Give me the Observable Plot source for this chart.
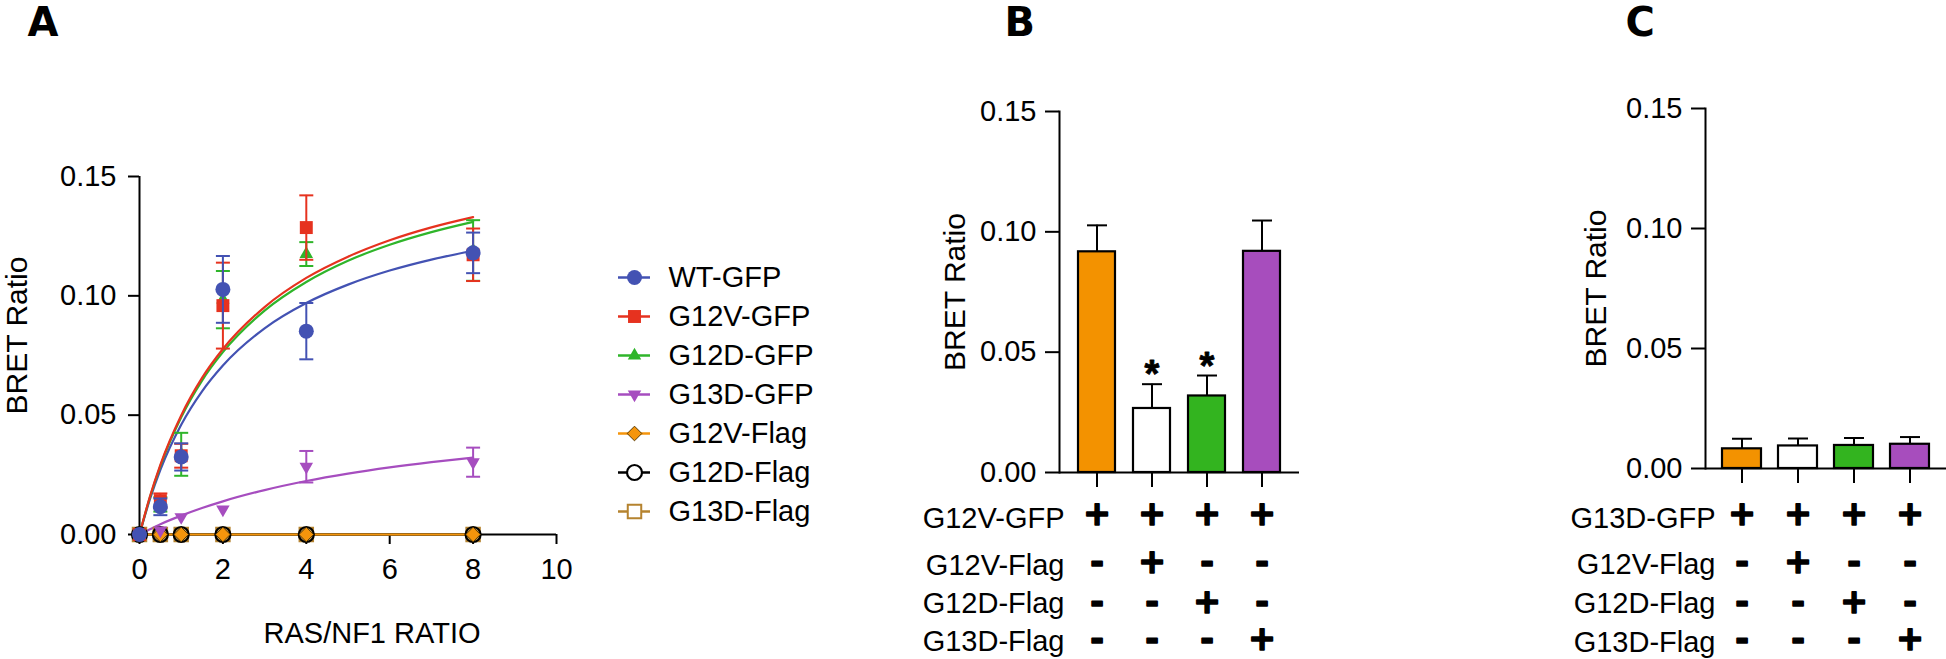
<!DOCTYPE html>
<html><head><meta charset="utf-8">
<script src="https://cdn.jsdelivr.net/npm/d3@7"></script>
<script src="https://cdn.jsdelivr.net/npm/@observablehq/plot@0.6"></script>
<style>
html,body{margin:0;padding:0;background:#fff;}
#root{position:relative;width:1946px;height:659px;overflow:hidden;background:#fff;}
.panel{position:absolute;}
.panel svg{max-width:none !important;display:block;}
</style></head><body><div id="root"></div>
<script>
// ---------------- DATA ----------------
// Panel A
const seriesNames  = ["WT-GFP","G12V-GFP","G12D-GFP","G13D-GFP","G12V-Flag","G12D-Flag","G13D-Flag"];
const seriesColors = ["#4352b3","#e6321f","#2fb52a","#a64dbf","#f5950c","#000000","#b5832f"];
const ratioX = [0, 0.5, 1, 2, 4, 8];
const wtGFP       = [0, 0.0116, 0.0325, 0.1027, 0.0852, 0.1180];
const wtGFPErr    = [0, 0.0035, 0.0057, 0.0140, 0.0118, 0.0085];
const g12vGFP     = [0, 0.0142, 0.0330, 0.0959, 0.1286, 0.1172];
const g12vGFPErr  = [0, 0.0030, 0.0050, 0.0180, 0.0135, 0.0110];
const g12dGFP     = [0, 0.0126, 0.0336, 0.0984, 0.1175, 0.1190];
const g12dGFPErr  = [0, 0.0030, 0.0090, 0.0120, 0.0050, 0.0127];
const g13dGFP     = [0, 0.0017, 0.0073, 0.0105, 0.0284, 0.0303];
const g13dGFPErr  = [0, 0, 0, 0, 0.0066, 0.0061];
const g12vFlag    = [0, 0, 0, 0, 0, 0];
const g12dFlag    = [0, 0, 0, 0, 0, 0];
const g13dFlag    = [0, 0, 0, 0, 0, 0];
const flagErr     = [0, 0, 0, 0, 0, 0];
// fitted curves
const curveX    = [0, 0.25, 0.5, 1, 1.5, 2, 3, 4, 5, 6, 7, 8];
const wtCurve   = [0, 0.0148, 0.0271, 0.0460, 0.0600, 0.0708, 0.0864, 0.0970, 0.1047, 0.1106, 0.1152, 0.1189];
const g12vCurve = [0, 0.0159, 0.0292, 0.0499, 0.0656, 0.0777, 0.0953, 0.1075, 0.1164, 0.1233, 0.1287, 0.1330];
const g12dCurve = [0, 0.0156, 0.0287, 0.0491, 0.0645, 0.0764, 0.0938, 0.1058, 0.1147, 0.1214, 0.1267, 0.1310];
const g13dCurve = [0, 0.0022, 0.0043, 0.0079, 0.0111, 0.0139, 0.0186, 0.0224, 0.0255, 0.0281, 0.0303, 0.0322];
const flagCurve = [0, 0, 0, 0, 0, 0, 0, 0, 0, 0, 0, 0];
const xTicksA = [0, 2, 4, 6, 8, 10];
const yTicks  = [0, 0.05, 0.10, 0.15];

// Panel B
const catsB   = ["G12V-GFP", "G12V-GFP + G12V-Flag", "G12V-GFP + G12D-Flag", "G12V-GFP + G13D-Flag"];
const meansB  = [0.0917, 0.0266, 0.0318, 0.0919];
const errsB   = [0.0110, 0.0101, 0.0085, 0.0128];
const fillsB  = ["#f39200", "#ffffff", "#33b41f", "#a74dbd"];
const sigB    = ["", "*", "*", ""];
const rowsB   = ["G12V-GFP", "G12V-Flag", "G12D-Flag", "G13D-Flag"];
const signsB  = [["+","+","+","+"], ["-","+","-","-"], ["-","-","+","-"], ["-","-","-","+"]];

// Panel C
const catsC   = ["G13D-GFP", "G13D-GFP + G12V-Flag", "G13D-GFP + G12D-Flag", "G13D-GFP + G13D-Flag"];
const meansC  = [0.0082, 0.0094, 0.0096, 0.0101];
const errsC   = [0.0042, 0.0031, 0.0031, 0.0030];
const fillsC  = ["#f39200", "#ffffff", "#33b41f", "#a74dbd"];
const sigC    = ["", "", "", ""];
const rowsC   = ["G13D-GFP", "G12V-Flag", "G12D-Flag", "G13D-Flag"];
const signsC  = [["+","+","+","+"], ["-","+","-","-"], ["-","-","+","-"], ["-","-","-","+"]];

// ---------------- HELPERS ----------------
const FONT = '"Liberation Sans", Arial, Helvetica, sans-serif';
const BOLDFONT = '"DejaVu Sans", "Liberation Sans", sans-serif';
const root = document.getElementById("root");
function place(svg, left, top) {
  const d = document.createElement("div");
  d.className = "panel"; d.style.left = left + "px"; d.style.top = top + "px";
  d.appendChild(svg); root.appendChild(d);
}
const hline = {draw(ctx, size) { const r = Math.sqrt(size / Math.PI); ctx.moveTo(-r, 0); ctx.lineTo(r, 0); }};
const triUp = {draw(ctx, size) { const R = 1.08 * Math.sqrt(size / Math.PI);
  ctx.moveTo(0, -R); ctx.lineTo(0.866 * R, 0.5 * R); ctx.lineTo(-0.866 * R, 0.5 * R); ctx.closePath(); }};
const triDown = {draw(ctx, size) { const R = 1.08 * Math.sqrt(size / Math.PI);
  ctx.moveTo(0, R); ctx.lineTo(0.866 * R, -0.5 * R); ctx.lineTo(-0.866 * R, -0.5 * R); ctx.closePath(); }};

const seriesVals = [wtGFP, g12vGFP, g12dGFP, g13dGFP, g12vFlag, g12dFlag, g13dFlag];
const seriesErrs = [wtGFPErr, g12vGFPErr, g12dGFPErr, g13dGFPErr, flagErr, flagErr, flagErr];
const seriesCurves = [wtCurve, g12vCurve, g12dCurve, g13dCurve, flagCurve, flagCurve, flagCurve];
const markerStyle = [
  {symbol: "circle", r: 7.5, fill: seriesColors[0], stroke: "none"},
  {symbol: "square", r: 7.3, fill: seriesColors[1], stroke: "none"},
  {symbol: triUp, r: 7.2, fill: seriesColors[2], stroke: "none"},
  {symbol: triDown, r: 7.2, fill: seriesColors[3], stroke: "none"},
  {symbol: "diamond2", r: 6.6, fill: seriesColors[4], stroke: "#5a3a00", strokeWidth: 1},
  {symbol: "circle", r: 7.5, fill: "none", stroke: seriesColors[5], strokeWidth: 2.2},
  {symbol: "square", r: 7.6, fill: "#d3a75c", stroke: seriesColors[6], strokeWidth: 2}
];
const points = seriesNames.map((s, i) => ratioX.map((x, j) => ({series: s, x, y: seriesVals[i][j], err: seriesErrs[i][j]})));
const curves = seriesNames.map((s, i) => curveX.map((x, j) => ({series: s, x, y: seriesCurves[i][j]})));

// ---------------- PANEL A ----------------
const drawOrder = [6, 5, 4, 3, 2, 1, 0];
const lineOrder = [6, 5, 4, 3, 0, 2, 1];
const marksA = [
  Plot.axisX({ticks: xTicksA, tickSize: 10, tickPadding: 14, strokeWidth: 2, label: null, fontSize: 29}),
  Plot.axisY({ticks: yTicks, tickSize: 11, tickPadding: 12, tickFormat: d3.format(".2f"), strokeWidth: 2, label: null, fontSize: 29}),
  Plot.ruleX([0], {strokeWidth: 2}),
  Plot.ruleY([0], {strokeWidth: 2})
];
for (const i of lineOrder) {
  marksA.push(Plot.line(curves[i], {x: "x", y: "y", stroke: seriesColors[i], strokeWidth: 2.2, curve: "monotone-x"}));
}
for (const i of drawOrder) {
  const withErr = points[i].filter(d => d.err > 0);
  marksA.push(Plot.ruleX(withErr, {x: "x", y1: d => d.y - d.err, y2: d => d.y + d.err, stroke: seriesColors[i], strokeWidth: 2}));
  marksA.push(Plot.dot(withErr, {x: "x", y: d => d.y + d.err, symbol: hline, r: 7, stroke: seriesColors[i], strokeWidth: 2, fill: "none"}));
  marksA.push(Plot.dot(withErr, {x: "x", y: d => d.y - d.err, symbol: hline, r: 7, stroke: seriesColors[i], strokeWidth: 2, fill: "none"}));
  marksA.push(Plot.dot(points[i], {x: "x", y: "y", ...markerStyle[i]}));
}
marksA.push(Plot.text(["BRET Ratio"], {text: d => d, frameAnchor: "left", textAnchor: "middle", dx: -122, dy: -20, rotate: -90, fontSize: 30}));
marksA.push(Plot.text(["RAS/NF1 RATIO"], {text: d => d, frameAnchor: "bottom", textAnchor: "middle", dx: 24, dy: 108, lineAnchor: "bottom", fontSize: 29}));
marksA.push(Plot.text(["A"], {text: d => d, frameAnchor: "top-left", dx: -112, dy: -141, textAnchor: "start", lineAnchor: "bottom", fontSize: 40, fontWeight: "bold", fontFamily: BOLDFONT}));

place(Plot.plot({
  width: 600, height: 659, marginLeft: 139, marginRight: 44, marginTop: 176, marginBottom: 125,
  x: {domain: [0, 10], axis: null}, y: {domain: [0, 0.15], axis: null},
  style: {fontFamily: FONT, fontSize: "29px", background: "transparent", overflow: "visible"},
  marks: marksA
}), 0, 0);

// Legend for A
const legendData = seriesNames.map((s, i) => ({series: s, i}));
const legendMarks = [];
legendData.forEach(d => {
  legendMarks.push(Plot.ruleY([d], {y: "series", x1: 0, x2: 1, stroke: seriesColors[d.i], strokeWidth: 2.5}));
  const ms = {...markerStyle[d.i]};
  if (d.i === 6) ms.fill = "white";
  if (d.i === 5) ms.fill = "white";
  legendMarks.push(Plot.dot([d], {x: 0.5, y: "series", ...ms}));
});
legendMarks.push(Plot.text(legendData, {x: 1, y: "series", text: "series", dx: 18, textAnchor: "start", fontSize: 29}));
place(Plot.plot({
  width: 260, height: 300, marginLeft: 18, marginRight: 210, marginTop: 27, marginBottom: 39,
  x: {domain: [0, 1], axis: null},
  y: {type: "point", domain: seriesNames, padding: 0, axis: null},
  style: {fontFamily: FONT, fontSize: "29px", background: "transparent", overflow: "visible"},
  marks: legendMarks
}), 600, 250);

// ---------------- PANELS B & C ----------------
function barPanel(o) {
  const data = o.cats.map((c, i) => ({cat: c, mean: o.means[i], err: o.errs[i], fill: o.fills[i], sig: o.sig[i]}));
  const marks = [
    Plot.axisY({ticks: yTicks, tickSize: 14, tickPadding: 9, tickFormat: d3.format(".2f"), strokeWidth: 2, label: null, fontSize: 29}),
    Plot.axisX({tickSize: 15, tickFormat: () => "", strokeWidth: 2, label: null}),
    Plot.frame({anchor: "left", strokeWidth: 2}),
    Plot.ruleY([0], {strokeWidth: 2}),
    Plot.ruleX(data, {x: "cat", y1: "mean", y2: d => d.mean + d.err, strokeWidth: 2}),
    Plot.dot(data, {x: "cat", y: d => d.mean + d.err, symbol: hline, r: 10, stroke: "black", strokeWidth: 2, fill: "none"}),
    Plot.barY(data, {x: "cat", y: "mean", fill: "fill", stroke: "black", strokeWidth: 2.2}),
    Plot.text(data.filter(d => d.sig), {x: "cat", y: d => d.mean + d.err, text: "sig", dy: 3, lineAnchor: "bottom", fontSize: 38, fontWeight: "bold", fill: "black", stroke: "black", strokeWidth: 0.8}),
    Plot.text(["BRET Ratio"], {text: d => d, frameAnchor: "left", textAnchor: "middle", dx: o.yLabelDx, rotate: -90, fontSize: 30}),
    Plot.text([o.letter], {text: d => d, frameAnchor: "top-left", dx: o.letterDx, dy: 35 - o.marginTop, textAnchor: "start", lineAnchor: "bottom", fontSize: 40, fontWeight: "bold", fontFamily: BOLDFONT})
  ];
  o.rows.forEach((row, r) => {
    marks.push(Plot.text([row], {text: d => d, frameAnchor: "bottom-left", dx: o.labelDx, dy: o.labelDy[r], textAnchor: "end", lineAnchor: "bottom", fontSize: 29}));
    marks.push(Plot.text(o.cats, {x: d => d, text: (d, j) => o.signs[r][j], frameAnchor: "bottom", textAnchor: "middle", dy: o.signDy[r], lineAnchor: "middle", fontSize: 33, fontWeight: "bold", fontFamily: BOLDFONT, fill: "black", stroke: "black", strokeWidth: 1.6}));
  });
  return Plot.plot({
    width: o.width, height: 659, marginLeft: o.marginLeft, marginRight: o.marginRight, marginTop: o.marginTop, marginBottom: o.marginBottom,
    x: {type: "band", domain: o.cats, paddingInner: o.padIn, paddingOuter: o.padOut, axis: null},
    y: {domain: [0, 0.15], axis: null},
    color: {type: "identity"},
    style: {fontFamily: FONT, fontSize: "29px", background: "transparent", overflow: "visible"},
    marks
  });
}

place(barPanel({
  width: 440, marginLeft: 179, marginRight: 21, marginTop: 111, marginBottom: 187,
  cats: catsB, means: meansB, errs: errsB, fills: fillsB, sig: sigB, rows: rowsB, signs: signsB,
  padIn: 0.327, padOut: 0.345, labelDx: 5, labelDy: [55, 102, 140, 178], signDy: [42, 90, 130, 167],
  yLabelDx: -104, letter: "B", letterDx: -55
}), 880, 0);

place(barPanel({
  width: 446, marginLeft: 205, marginRight: 0, marginTop: 108, marginBottom: 191,
  cats: catsC, means: meansC, errs: errsC, fills: fillsC, sig: sigC, rows: rowsC, signs: signsC,
  padIn: 0.3125, padOut: 0.308, labelDx: 10, labelDy: [59, 105, 144, 183], signDy: [46, 94, 134, 171],
  yLabelDx: -109, letter: "C", letterDx: -80
}), 1500, 0);
</script></body></html>
